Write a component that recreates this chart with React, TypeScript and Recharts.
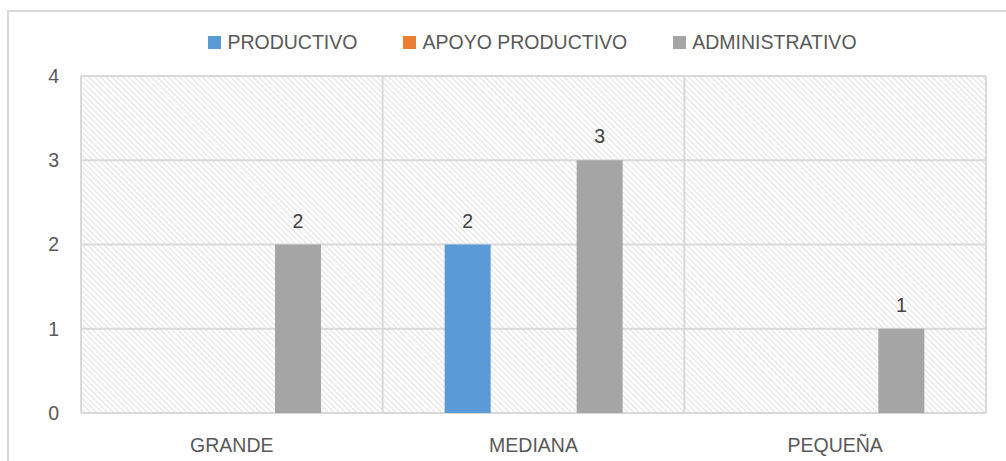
import React from "react";
import { BarChart, Bar, XAxis, YAxis, CartesianGrid, Legend, LabelList } from "recharts";

const categories = ["GRANDE", "MEDIANA", "PEQUEÑA"];
const productivo: (number | null)[] = [null, 2, null];
const apoyoProductivo: (number | null)[] = [null, null, null];
const administrativo: (number | null)[] = [2, 3, 1];
const yTicks = [0, 1, 2, 3, 4];

const seriesNames = ["PRODUCTIVO", "APOYO PRODUCTIVO", "ADMINISTRATIVO"];
const seriesColors = ["#5B9BD5", "#ED7D31", "#A5A5A5"];

const data = categories.map((c, i) => ({
  name: c,
  productivo: productivo[i],
  apoyo: apoyoProductivo[i],
  administrativo: administrativo[i],
}));

const FONT = "'Liberation Sans', Arial, sans-serif";

const renderLegend = () => (
  <div style={{ display: "flex", justifyContent: "center", alignItems: "center", fontFamily: FONT, fontSize: 19.5, color: "#595959" }}>
    {seriesNames.map((n, i) => (
      <div key={n} style={{ display: "flex", alignItems: "center", marginLeft: i === 0 ? 0 : 46 }}>
        <span style={{ display: "inline-block", width: 13, height: 13, background: seriesColors[i], marginRight: 6 }} />
        <span>{n}</span>
      </div>
    ))}
  </div>
);

const fmt = (v: any) => (v === null || v === undefined || v === 0 ? "" : v);

export default function App() {
  return (
    <div style={{ position: "fixed", left: 0, top: 0, width: 1006, height: 461, overflow: "hidden", background: "#fff" }}>
      <div style={{ position: "absolute", left: 7, top: 10, width: 1020, height: 480, borderTop: "2px solid #d9d9d9", borderLeft: "2px solid #d9d9d9" }} />
      <div style={{ position: "absolute", left: 0, top: 0 }}>
        <BarChart
          width={1006}
          height={461}
          data={data}
          margin={{ top: 76, right: 20, left: 0, bottom: 0 }}
          barCategoryGap={62}
          barGap={20}
        >
          <defs>
            <pattern id="hatch" patternUnits="userSpaceOnUse" width="4" height="4" patternTransform="rotate(-45)">
              <rect width="4" height="4" fill="#ffffff" />
              <line x1="0" y1="0" x2="0" y2="4" stroke="#cfcfcf" strokeWidth="1.3" />
            </pattern>
          </defs>
          <CartesianGrid
            fill="url(#hatch)"
            stroke="#d9d9d9"
            strokeWidth={2}
            verticalCoordinatesGenerator={(props: any) => {
              const off = props.offset;
              return categories.map((_, i) => off.left + (i * off.width) / categories.length).concat([off.left + off.width]);
            }}
          />
          <XAxis
            dataKey="name"
            axisLine={false}
            tickLine={false}
            tickSize={0}
            tickMargin={25}
            height={48}
            interval={0}
            tick={{ fill: "#595959", fontSize: 19.5, fontFamily: FONT }}
          />
          <YAxis
            domain={[0, 4]}
            ticks={yTicks}
            axisLine={false}
            tickLine={false}
            tickSize={0}
            tickMargin={22}
            width={81}
            tick={{ fill: "#595959", fontSize: 19.5, fontFamily: FONT }}
          />
          <Legend
            layout="horizontal"
            verticalAlign="middle"
            align="center"
            content={renderLegend}
            wrapperStyle={{ position: "absolute", top: 31, left: 59, width: 947 }}
          />
          <Bar dataKey="productivo" name={seriesNames[0]} fill={seriesColors[0]} isAnimationActive={false}>
            <LabelList dataKey="productivo" position="top" offset={17} formatter={fmt} style={{ fill: "#404040", fontSize: 19.5, fontFamily: FONT }} />
          </Bar>
          <Bar dataKey="apoyo" name={seriesNames[1]} fill={seriesColors[1]} isAnimationActive={false}>
            <LabelList dataKey="apoyo" position="top" offset={17} formatter={fmt} style={{ fill: "#404040", fontSize: 19.5, fontFamily: FONT }} />
          </Bar>
          <Bar dataKey="administrativo" name={seriesNames[2]} fill={seriesColors[2]} isAnimationActive={false}>
            <LabelList dataKey="administrativo" position="top" offset={17} formatter={fmt} style={{ fill: "#404040", fontSize: 19.5, fontFamily: FONT }} />
          </Bar>
        </BarChart>
      </div>
    </div>
  );
}
